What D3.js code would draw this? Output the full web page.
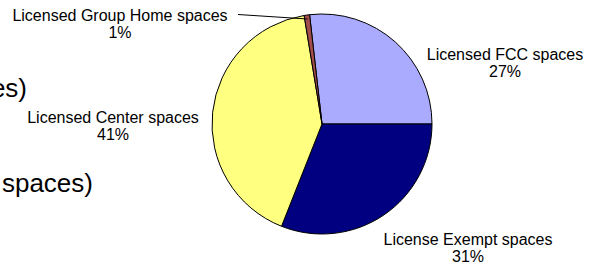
<!DOCTYPE html>
<html>
<head>
<meta charset="utf-8">
<script src="https://cdn.jsdelivr.net/npm/d3@7"></script>
<style>
  body { margin: 0; background: #fff; }
  text { font-family: "Liberation Sans", Arial, sans-serif; fill: #000; }
</style>
</head>
<body>
<svg id="svg1" width="591" height="265"></svg>
<script>
// slices, clockwise from the 3 o'clock boundary back round
var categories = ["Licensed FCC spaces", "License Exempt spaces", "Licensed Center spaces", "Licensed Group Home spaces"]
var shares = [26.8, 31.0, 41.4, 0.8]
var pctLabels = ["27%", "31%", "41%", "1%"]
var colors = ["#aaaaff", "#000080", "#ffff80", "#a34c4c"]

var svg = d3.select("#svg1")
var cx = 322, cy = 124, radius = 110

var total = d3.sum(shares)
// FCC slice ends exactly at 3 o'clock
var start = Math.PI / 2 - 2 * Math.PI * shares[0] / total

var pie = d3.pie().sort(null).value(function(d) { return d; })
  .startAngle(start).endAngle(start + 2 * Math.PI)
var arc = d3.arc().innerRadius(0).outerRadius(radius)

var g = svg.append("g").attr("transform", "translate(" + cx + "," + cy + ")")

g.selectAll("path")
  .data(pie(shares))
  .enter().append("path")
    .attr("d", arc)
    .attr("fill", function(d, i) { return colors[i]; })
    .attr("stroke", "#000")
    .attr("stroke-width", 1)

// label anchors (centre of text block, first baseline)
var labelPos = [[505, 60], [468, 245], [113, 123], [120, 21]]

var lab = svg.selectAll("g.lab")
  .data(categories)
  .enter().append("g")
    .attr("class", "lab")
    .attr("transform", function(d, i) { return "translate(" + labelPos[i][0] + "," + labelPos[i][1] + ")"; })

lab.append("text")
  .attr("text-anchor", "middle")
  .style("font-size", "16px")
  .text(function(d) { return d; })
lab.append("text")
  .attr("text-anchor", "middle")
  .attr("y", 17)
  .style("font-size", "16px")
  .text(function(d, i) { return pctLabels[i]; })

// leader line for the tiny group home slice
var gh = pie(shares)[3]
var mid = (gh.startAngle + gh.endAngle) / 2
svg.append("line")
  .attr("x1", 238).attr("y1", 14.5)
  .attr("x2", cx + Math.sin(mid) * (radius - 4))
  .attr("y2", cy - Math.cos(mid) * (radius - 4))
  .attr("stroke", "#000")
  .attr("stroke-width", 1)

// cut-off text on the left edge
svg.append("text").attr("x", 27).attr("y", 97).attr("text-anchor", "end")
  .style("font-size", "26px")
  .text("es)")
svg.append("text").attr("x", 93).attr("y", 192).attr("text-anchor", "end")
  .style("font-size", "26px")
  .text("spaces)")
</script>
</body>
</html>
